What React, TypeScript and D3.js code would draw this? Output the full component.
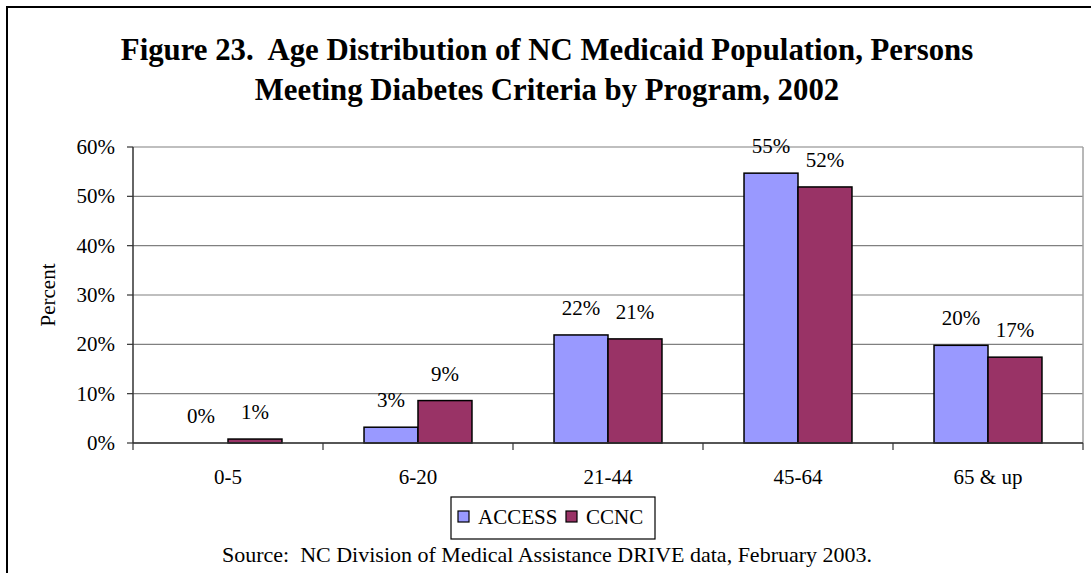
import React from "react";
import * as d3 from "d3";

const categories = ["0-5", "6-20", "21-44", "45-64", "65 & up"];
const seriesNames = ["ACCESS", "CCNC"];
const accessValues = [0, 3.2, 21.9, 54.7, 19.8];
const ccncValues = [0.8, 8.6, 21.1, 51.9, 17.4];
const yTicks = [0, 10, 20, 30, 40, 50, 60];
const colors = ["#9999FF", "#993366"];
const titleLines = [
  "Figure 23.  Age Distribution of NC Medicaid Population, Persons",
  "Meeting Diabetes Criteria by Program, 2002",
];
const sourceText = "Source:  NC Division of Medical Assistance DRIVE data, February 2003.";

const W = 1091;
const H = 573;
const plot = { left: 133, right: 1083, top: 147, bottom: 443 };
const FONT = "'Liberation Serif', 'Times New Roman', serif";

export default function App() {
  const x0 = d3.scaleBand<string>().domain(categories).range([plot.left, plot.right]).padding(0);
  const x1 = d3
    .scaleBand<string>()
    .domain(seriesNames)
    .range([0, x0.bandwidth()])
    .paddingInner(0)
    .paddingOuter(0.76);
  const y = d3.scaleLinear().domain([0, 60]).range([plot.bottom, plot.top]);
  const series = [accessValues, ccncValues];

  return (
    <svg
      width={W}
      height={H}
      style={{ position: "absolute", left: 0, top: 0, background: "#fff", whiteSpace: "pre" }}
      fontFamily={FONT}
    >
      <rect x={0} y={0} width={W} height={H} fill="#fff" />
      {/* outer chart border */}
      <rect x={7} y={7} width={W + 10} height={H + 10} fill="none" stroke="#000" strokeWidth={2} />

      {/* title */}
      {titleLines.map((t, i) => (
        <text
          key={i}
          x={547}
          y={60 + i * 40}
          textAnchor="middle"
          fontSize={30.8}
          fontWeight="bold"
          fill="#000"
          style={{ whiteSpace: "pre" }}
        >
          {t}
        </text>
      ))}

      {/* gridlines */}
      {yTicks.map((t) => (
        <line
          key={"g" + t}
          x1={plot.left}
          x2={plot.right}
          y1={y(t)}
          y2={y(t)}
          stroke="#808080"
          strokeWidth={1.2}
        />
      ))}
      {/* plot area right border */}
      <line x1={plot.right} x2={plot.right} y1={plot.top} y2={plot.bottom} stroke="#a0a0a0" strokeWidth={1.5} />

      {/* y ticks and labels */}
      {yTicks.map((t) => (
        <g key={"yt" + t}>
          <line x1={plot.left - 6} x2={plot.left} y1={y(t)} y2={y(t)} stroke="#333" strokeWidth={1.2} />
          <text x={115} y={y(t) + 7} textAnchor="end" fontSize={21} fill="#000">
            {t + "%"}
          </text>
        </g>
      ))}

      {/* y axis title */}
      <text
        transform={`translate(55, ${(plot.top + plot.bottom) / 2}) rotate(-90)`}
        textAnchor="middle"
        fontSize={21}
        fill="#000"
      >
        Percent
      </text>

      {/* bars */}
      {categories.map((c, ci) => (
        <g key={"c" + c} transform={`translate(${x0(c)},0)`}>
          {seriesNames.map((s, si) => {
            const v = series[si][ci];
            const bx = x1(s) as number;
            const bw = x1.bandwidth();
            return (
              <g key={s}>
                {v > 0 && (
                  <rect
                    x={bx}
                    y={y(v)}
                    width={bw}
                    height={y(0) - y(v)}
                    fill={colors[si]}
                    stroke="#000"
                    strokeWidth={1.5}
                  />
                )}
                <text x={bx + bw / 2} y={y(v) - 20} textAnchor="middle" fontSize={21} fill="#000">
                  {Math.round(v) + "%"}
                </text>
              </g>
            );
          })}
        </g>
      ))}

      {/* axes */}
      <line x1={plot.left} x2={plot.left} y1={plot.top} y2={plot.bottom} stroke="#333" strokeWidth={1.5} />
      <line x1={plot.left} x2={plot.right} y1={plot.bottom} y2={plot.bottom} stroke="#333" strokeWidth={1.5} />
      {/* x ticks at category boundaries */}
      {[...categories.map((c) => x0(c) as number), plot.right].map((xv, i) => (
        <line key={"xt" + i} x1={xv} x2={xv} y1={plot.bottom} y2={plot.bottom + 7} stroke="#333" strokeWidth={1.2} />
      ))}
      {categories.map((c) => (
        <text
          key={"xl" + c}
          x={(x0(c) as number) + x0.bandwidth() / 2}
          y={484}
          textAnchor="middle"
          fontSize={21}
          fill="#000"
        >
          {c}
        </text>
      ))}

      {/* legend */}
      <rect x={451} y={497} width={204} height={42} fill="#fff" stroke="#000" strokeWidth={1.2} />
      {seriesNames.map((s, i) => {
        const lx = [458, 566][i];
        return (
          <g key={"lg" + s}>
            <rect x={lx} y={511} width={11} height={11} fill={colors[i]} stroke="#000" strokeWidth={1.2} />
            <text x={lx + 20} y={524} fontSize={21} fill="#000">
              {s}
            </text>
          </g>
        );
      })}

      {/* source */}
      <text x={547} y={562} textAnchor="middle" fontSize={22} fill="#000" style={{ whiteSpace: "pre" }}>
        {sourceText}
      </text>
    </svg>
  );
}
